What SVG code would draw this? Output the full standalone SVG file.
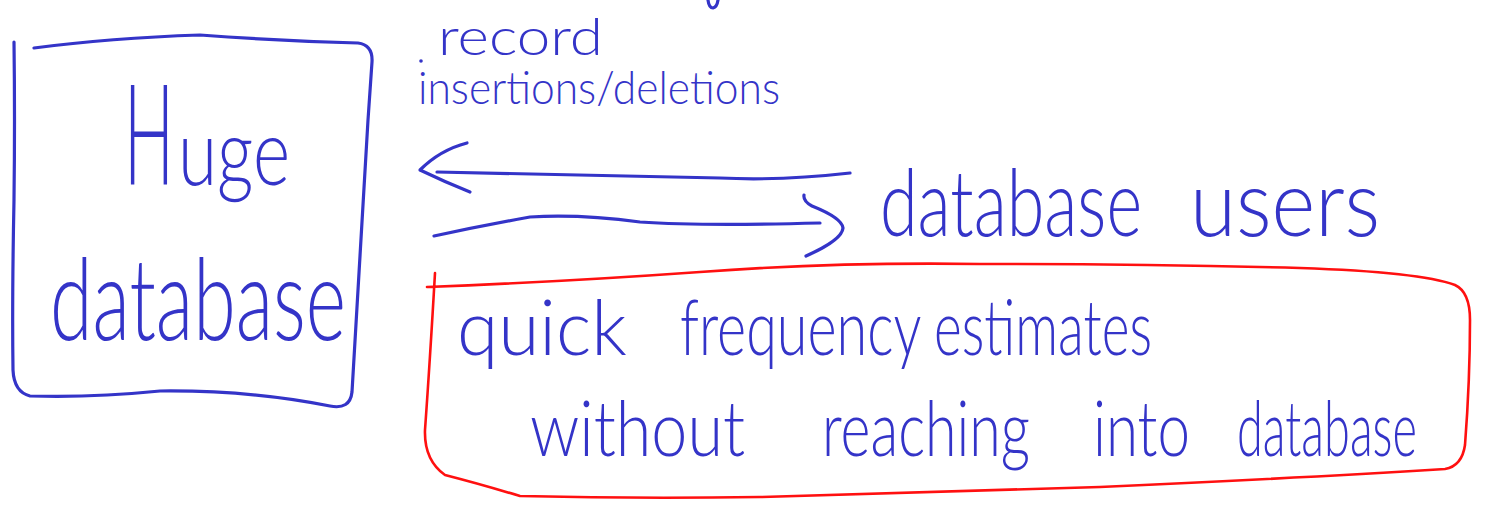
<svg xmlns="http://www.w3.org/2000/svg" width="1487" height="507" viewBox="0 0 1487 507">
  <style>
    .pen { fill: none; stroke: #3434c8; stroke-width: 3.2; stroke-linecap: round; stroke-linejoin: round; }
    .red { fill: none; stroke: #ff1010; stroke-width: 2.6; stroke-linecap: round; stroke-linejoin: round; }
    .ink { fill: #3434c8; font-family: Lato, "Liberation Sans", sans-serif; font-weight: 300; }
  </style>
  <rect width="1487" height="507" fill="#ffffff"/>

  <!-- stray stroke cut off at the top edge -->
  <path class="pen" d="M708,0 Q709,8 713,8 Q717,7 718,0"/>

  <!-- the database box -->
  <g id="node-huge-database">
    <path class="pen" d="M14,42 Q15,120 14,200 Q12,300 13,370 Q14,392 30,396 Q90,398 160,391 Q250,390 330,406 Q350,410 352,392 Q360,250 368,120 L372,62 Q373,45 358,43 Q280,41 200,35 Q110,38 34,48"/>
    <text class="ink" y="185"><tspan x="124" font-size="140" textLength="50" lengthAdjust="spacingAndGlyphs">H</tspan><tspan x="178" font-size="92" textLength="112" lengthAdjust="spacingAndGlyphs">uge</tspan></text>
    <text class="ink" x="50" y="340" font-size="114" textLength="296" lengthAdjust="spacingAndGlyphs">database</text>
  </g>

  <!-- the users -->
  <g id="node-users">
    <text class="ink" x="880" y="236" font-size="92" textLength="262" lengthAdjust="spacingAndGlyphs">database</text>
    <text class="ink" x="1190" y="236" font-size="92" textLength="190" lengthAdjust="spacingAndGlyphs">users</text>
  </g>

  <!-- the estimate, outlined in red -->
  <g id="node-estimates">
    <path class="red" d="M435,273 Q430,360 425,430 Q424,460 445,475 Q480,484 520,496 Q640,499 760,497 Q950,492 1100,487 Q1300,478 1445,469 Q1462,466 1465,445 Q1470,380 1470,320 Q1470,292 1455,285 Q1420,272 1300,268 Q1150,264 980,264 Q830,262 700,272 Q560,282 427,287"/>
    <text class="ink" y="355" font-size="76">
      <tspan x="457" textLength="170" lengthAdjust="spacingAndGlyphs">quick</tspan>
      <tspan x="680" textLength="240" lengthAdjust="spacingAndGlyphs">frequency</tspan>
      <tspan x="934" textLength="218" lengthAdjust="spacingAndGlyphs">estimates</tspan>
    </text>
    <text class="ink" y="456" font-size="76">
      <tspan x="530" textLength="215" lengthAdjust="spacingAndGlyphs">without</tspan>
      <tspan x="822" textLength="208" lengthAdjust="spacingAndGlyphs">reaching</tspan>
      <tspan x="1093" textLength="97" lengthAdjust="spacingAndGlyphs">into</tspan>
      <tspan x="1237" textLength="180" lengthAdjust="spacingAndGlyphs">database</tspan>
    </text>
  </g>

  <!-- the two arrows between database and users -->
  <g id="connectors">
    <path class="pen" d="M437,172 Q600,175 720,178 Q780,181 850,173"/>
    <path class="pen" d="M467,143 Q440,150 420,170 Q445,182 470,192"/>
    <path class="pen" d="M434,236 Q480,226 530,217 Q580,214 640,222 Q700,226 820,223"/>
    <path class="pen" d="M804,195 Q803,201 812,206 Q842,218 843,228 Q842,240 806,256"/>
    <g id="label-updates">
      <circle cx="421" cy="61" r="1.8" fill="#3434c8"/>
      <text class="ink" x="438" y="55" font-size="52" textLength="165" lengthAdjust="spacingAndGlyphs">record</text>
      <text class="ink" x="418" y="104" font-size="46" textLength="362" lengthAdjust="spacingAndGlyphs">insertions/deletions</text>
    </g>
  </g>
</svg>
